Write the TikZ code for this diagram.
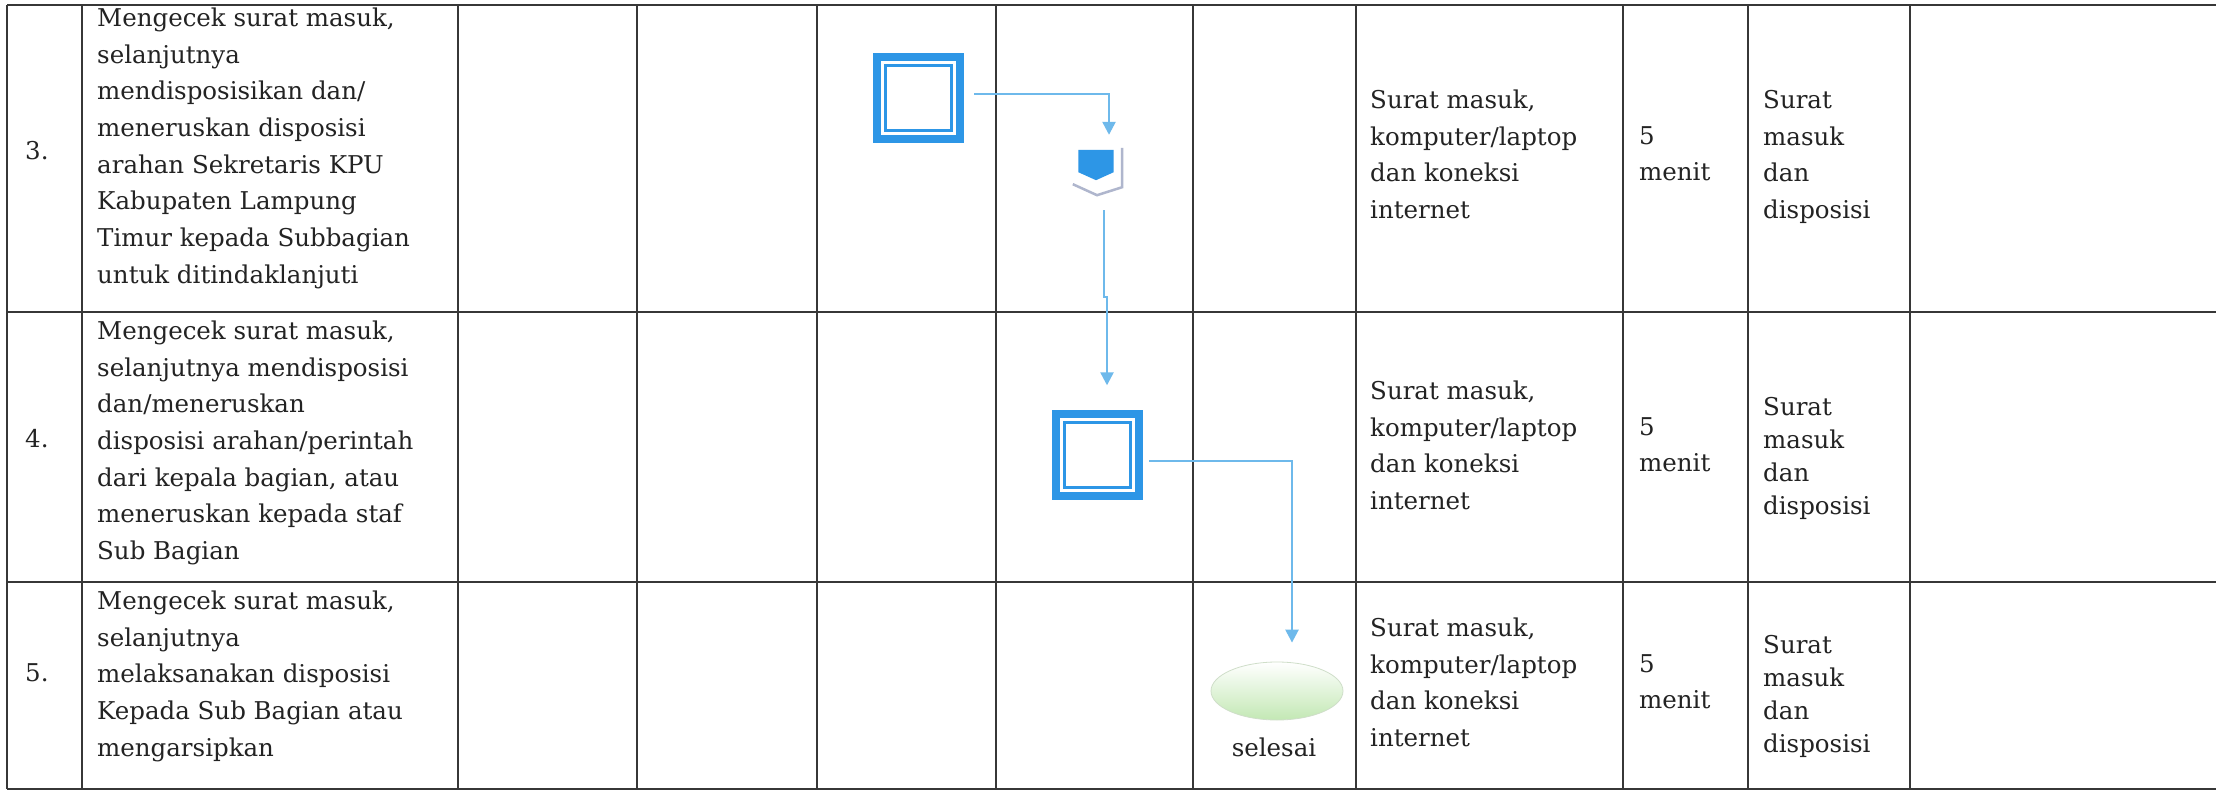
\documentclass[tikz,border=0pt]{standalone}
\usepackage{fontspec}
\setmainfont{DejaVu Serif}
\usetikzlibrary{arrows.meta,shapes.geometric}
\definecolor{flowblue}{RGB}{45,150,230}
\definecolor{arrowblue}{RGB}{110,185,235}
\definecolor{gridcol}{RGB}{55,55,55}
\definecolor{txt}{RGB}{35,35,35}
\definecolor{pgedge}{RGB}{175,182,205}
\definecolor{endgreen}{RGB}{195,232,180}
\begin{document}
\begin{tikzpicture}[x=1pt,y=-1pt,
  gridline/.style={draw=gridcol,line width=1.6pt},
  celltext/.style={anchor=north west,align=left,inner sep=0pt,text=txt,font=\fontsize{24.5}{36.7}\selectfont},
  tighttext/.style={anchor=north west,align=left,inner sep=0pt,text=txt,font=\fontsize{24.5}{33}\selectfont},
  numtext/.style={anchor=base west,inner sep=0pt,text=txt,font=\fontsize{24.5}{36.7}\selectfont},
  sqbox/.style={minimum width=91pt,minimum height=90pt,inner sep=0pt,fill=flowblue,
    path picture={
      \fill[white] ([shift={(8pt,8pt)}]path picture bounding box.south west) rectangle ([shift={(-8pt,-8pt)}]path picture bounding box.north east);
      \draw[flowblue,line width=3pt] ([shift={(12.5pt,12.5pt)}]path picture bounding box.south west) rectangle ([shift={(-12.5pt,-12.5pt)}]path picture bounding box.north east);
    }},
  pgbox/.style={minimum width=35pt,minimum height=30pt,inner sep=0pt},
  endshape/.style={ellipse,minimum width=132pt,minimum height=58pt,inner sep=0pt,
    top color=white,bottom color=endgreen,draw=endgreen!70!gray!60,line width=0.8pt},
  flow/.style={draw=arrowblue,line width=2.4pt,-{Triangle[width=13pt,length=13pt]}},
  flowplain/.style={draw=arrowblue,line width=2.4pt}
]
\useasboundingbox (0,0) rectangle (2216,791);
\fill[white] (0,0) rectangle (2216,791);

% grid
\foreach \yy in {5,312,582,789} \draw[gridline] (7,\yy) -- (2216,\yy);
\foreach \xx in {7,82,458,637,817,996,1193,1356,1623,1748,1910} \draw[gridline] (\xx,5) -- (\xx,789);

% numbers
\node[numtext] (n3) at (25,160) {3.};
\node[numtext] (n4) at (25,447) {4.};
\node[numtext] (n5) at (25,681) {5.};

% descriptions
\node[celltext] (d3) at (97,7.5) {Mengecek surat masuk,\\selanjutnya\\mendisposisikan dan/\\meneruskan disposisi\\arahan Sekretaris KPU\\Kabupaten Lampung\\Timur kepada Subbagian\\untuk ditindaklanjuti};
\node[celltext] (d4) at (97,320.5) {Mengecek surat masuk,\\selanjutnya mendisposisi\\dan/meneruskan\\disposisi arahan/perintah\\dari kepala bagian, atau\\meneruskan kepada staf\\Sub Bagian};
\node[celltext] (d5) at (97,590.5) {Mengecek surat masuk,\\selanjutnya\\melaksanakan disposisi\\Kepada Sub Bagian atau\\mengarsipkan};

% kelengkapan
\node[celltext] (k3) at (1370,89.5) {Surat masuk,\\komputer/laptop\\dan koneksi\\internet};
\node[celltext] (k4) at (1370,380.5) {Surat masuk,\\komputer/laptop\\dan koneksi\\internet};
\node[celltext] (k5) at (1370,617.5) {Surat masuk,\\komputer/laptop\\dan koneksi\\internet};

% waktu
\node[celltext] (w3) at (1639,126) {5\\menit};
\node[celltext] (w4) at (1639,417) {5\\menit};
\node[celltext] (w5) at (1639,654) {5\\menit};

% output
\node[celltext] (o3) at (1763,90) {Surat\\masuk\\dan\\disposisi};
\node[tighttext] (o4) at (1763,397) {Surat\\masuk\\dan\\disposisi};
\node[tighttext] (o5) at (1763,635) {Surat\\masuk\\dan\\disposisi};

% flow shapes
\node[sqbox] (sq1) at (918.5,98) {};
\node[pgbox] (pg) at (1096,165) {};
\fill[flowblue] (pg.north west) -- (pg.north east) -- ([yshift=8pt]pg.south east) -- (pg.south) -- ([yshift=8pt]pg.south west) -- cycle;
\draw[pgedge,line width=2.5pt] ([xshift=8.5pt,yshift=2pt]pg.north east) -- ([xshift=8.5pt,yshift=-7pt]pg.south east) -- ([xshift=1pt,yshift=-15pt]pg.south) -- ([xshift=-5.5pt,yshift=-4pt]pg.south west);
\node[sqbox] (sq2) at (1097.5,454.5) {};
\node[endshape] (fin) at (1277,691) {};
\node[anchor=base,inner sep=0pt,text=txt,font=\fontsize{24.5}{30}\selectfont] (sel) at (1274,756) {selesai};

% connectors
\draw[flow] ([xshift=10pt,yshift=4pt]sq1.east) -| ([xshift=13pt,yshift=15pt]pg.north);
\draw[flow] ([xshift=8pt,yshift=-30pt]pg.south) -- ++(0,87) -- ++(3,0) -- ([xshift=9.5pt,yshift=24pt]sq2.north);
\draw[flow] ([xshift=6pt,yshift=-6.5pt]sq2.east) -| ([xshift=15pt,yshift=19pt]fin.north);
\end{tikzpicture}
\end{document}
